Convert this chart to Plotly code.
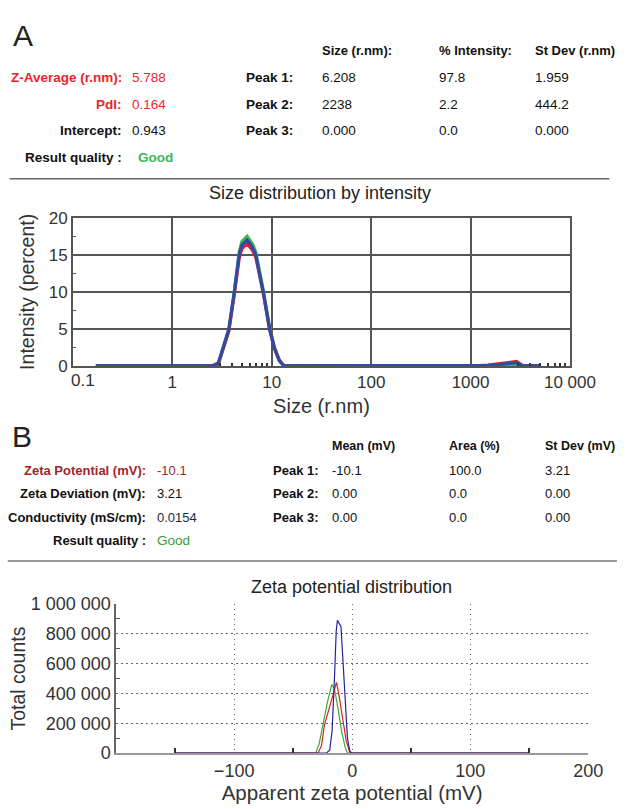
import plotly.graph_objects as go

W, H = 643, 809

# ---------------- Data: (A) size distribution by intensity ----------------
size_rnm = [0.17, 2.5, 2.9, 3.37, 3.7, 4.2, 4.7, 5.0, 5.65, 6.4, 6.9, 8.2, 9.5, 10.6, 11.9, 13.3,
            1000, 1500, 2100, 2900, 3400, 5100]
intensity_green = [0, 0, 0.2, 2.9, 4.8, 10.0, 15.3, 16.8, 17.5, 16.5, 15.4, 10.3, 5.3, 2.6, 0.8, 0,
                   0, 0.04, 0.12, 0.25, 0, 0]
intensity_red = [0, 0, 0.3, 3.0, 4.7, 9.6, 14.5, 15.8, 16.5, 15.6, 14.7, 9.9, 5.0, 2.5, 0.8, 0,
                 0, 0.12, 0.35, 0.6, 0, 0]
intensity_blue = [0, 0, 0.4, 3.3, 5.0, 10.0, 15.0, 16.3, 17.0, 16.0, 15.0, 10.0, 5.0, 2.4, 0.7, 0,
                  0, 0.08, 0.25, 0.45, 0, 0]

size_tickvals = [0.1, 1, 10, 100, 1000, 10000]
size_ticktext = ["", "1", "10", "100", "1000", "10 000"]
size_first_label = "0.1"
size_minor_ticks = [3, 4, 5, 6, 7, 8, 9, 3000, 4000, 5000, 6000, 7000, 8000, 9000]
intensity_tickvals = [0, 5, 10, 15, 20]
intensity_minor_ticks = [2.5, 7.5, 12.5, 17.5]

# ---------------- Data: (B) zeta potential distribution ----------------
zeta_green = [-150, -31, -28, -25, -21, -17.3, -15, -12, -9, -6, -4, 150]
counts_green = [0, 0, 60000, 180000, 340000, 460000, 430000, 300000, 150000, 40000, 0, 0]
zeta_red = [-150, -29, -26, -23.5, -18, -15, -13.3, -11, -8, -5, -2, -1.5, 150]
counts_red = [0, 0, 50000, 190000, 340000, 420000, 475000, 380000, 220000, 80000, 5000, 0, 0]
zeta_blue = [-150, -22, -19, -17, -15, -13.5, -12.5, -9.5, -8, -6, -4, -2, -0.5, 150]
counts_blue = [0, 0, 20000, 150000, 500000, 820000, 890000, 850000, 650000, 350000, 100000, 15000, 0, 0]

zeta_tickvals = [-100, 0, 100, 200]
zeta_ticktext = ["\u2212100", "0", "100", "200"]
zeta_minor_ticks = [-150, -50, 50, 150]
counts_tickvals = [0, 200000, 400000, 600000, 800000, 1000000]
counts_ticktext = ["0", "200 000", "400 000", "600 000", "800 000", "1 000 000"]
counts_minor_ticks = [100000, 300000, 500000, 700000, 900000]

# ---------------- Table texts ----------------
a_left_labels = ["Z-Average (r.nm):", "PdI:", "Intercept:", "Result quality :"]
a_left_values = ["5.788", "0.164", "0.943", "Good"]
a_headers = ["Size (r.nm):", "% Intensity:", "St Dev (r.nm)"]
a_peak_labels = ["Peak 1:", "Peak 2:", "Peak 3:"]
a_peak_size = ["6.208", "2238", "0.000"]
a_peak_intensity = ["97.8", "2.2", "0.0"]
a_peak_stdev = ["1.959", "444.2", "0.000"]

b_left_labels = ["Zeta Potential (mV):", "Zeta Deviation (mV):", "Conductivity (mS/cm):", "Result quality :"]
b_left_values = ["-10.1", "3.21", "0.0154", "Good"]
b_headers = ["Mean (mV)", "Area (%)", "St Dev (mV)"]
b_peak_labels = ["Peak 1:", "Peak 2:", "Peak 3:"]
b_peak_mean = ["-10.1", "0.00", "0.00"]
b_peak_area = ["100.0", "0.0", "0.0"]
b_peak_stdev = ["3.21", "0.00", "0.00"]

FONT = "Liberation Sans, Arial, sans-serif"


def px(x):
    return x / W


def py(y):
    return 1 - y / H


fig = go.Figure()

# Chart A traces
for vals, col in [(intensity_green, "#45b649"), (intensity_red, "#ec1c24"), (intensity_blue, "#2e4ca4")]:
    fig.add_trace(go.Scatter(x=size_rnm, y=vals, mode="lines", line=dict(color=col, width=3.2),
                             xaxis="x", yaxis="y", showlegend=False, hoverinfo="skip"))

# Chart B traces
for xs, ys, col in [(zeta_green, counts_green, "#3aa83a"), (zeta_red, counts_red, "#e02020"),
                    (zeta_blue, counts_blue, "#23239a")]:
    fig.add_trace(go.Scatter(x=xs, y=ys, mode="lines", line=dict(color=col, width=1.2),
                             xaxis="x2", yaxis="y2", showlegend=False, hoverinfo="skip"))

ann = []


def text(x, y, s, size=13.5, color="#111", bold=False, anchor="left", family=FONT):
    if bold:
        s = "<b>" + s + "</b>"
    ann.append(dict(x=px(x), y=py(y), xref="paper", yref="paper", text=s, showarrow=False,
                    xanchor=anchor, yanchor="middle", borderpad=0,
                    font=dict(size=size, color=color, family=family)))


# ---- Table A ----
text(12, 26, "A", size=30, color="#222")
a_rows = [69, 97, 124, 151]
a_cols = [335, 456, 556]
for c, h in zip(a_cols, a_headers):
    text(c, 42, h, size=13, bold=True)
a_label_colors = ["#e8262d", "#e8262d", "#111", "#111"]
a_value_colors = ["#e8262d", "#e8262d", "#111", "#3cb85c"]
for i in range(4):
    text(128, a_rows[i], a_left_labels[i], size=13.5, bold=True, color=a_label_colors[i], anchor="right")
    text(137 if i < 3 else 143, a_rows[i], a_left_values[i], size=13.5, color=a_value_colors[i],
         bold=(i == 3))
for i in range(3):
    text(306, a_rows[i], a_peak_labels[i], size=13.5, bold=True, anchor="right")
    text(a_cols[0], a_rows[i], a_peak_size[i])
    text(a_cols[1], a_rows[i], a_peak_intensity[i])
    text(a_cols[2], a_rows[i], a_peak_stdev[i])

# ---- Table B ----
text(11, 437, "B", size=30, color="#222")
b_rows = [472, 496, 520, 544]
b_cols = [345, 467, 567]
for c, h in zip(b_cols, b_headers):
    text(c, 447, h, size=12.5, bold=True)
b_label_colors = ["#a3252b", "#111", "#111", "#111"]
b_value_colors = ["#a3252b", "#111", "#1a2a44", "#3a9a3a"]
for i in range(4):
    text(153, b_rows[i], b_left_labels[i], size=13, bold=True, color=b_label_colors[i], anchor="right")
    text(163, b_rows[i], b_left_values[i], size=13 if i < 3 else 13.5, color=b_value_colors[i])
for i in range(3):
    text(333, b_rows[i], b_peak_labels[i], size=13, bold=True, anchor="right")
    text(b_cols[0], b_rows[i], b_peak_mean[i], size=13)
    text(b_cols[1], b_rows[i], b_peak_area[i], size=13)
    text(b_cols[2], b_rows[i], b_peak_stdev[i], size=13)

# ---- Chart titles and first size tick label ----
text(333, 188, "Size distribution by intensity", size=18, color="#222", anchor="center")
text(366, 592, "Zeta potential distribution", size=18, color="#222", anchor="center")
text(86, 380, size_first_label, size=17, color="#333", anchor="center")

shapes = [
    dict(type="line", xref="paper", yref="paper", x0=px(10), x1=px(635), y0=py(173), y1=py(173),
         line=dict(color="#666", width=1.5)),
    dict(type="line", xref="paper", yref="paper", x0=px(8), x1=px(643), y0=py(565), y1=py(565),
         line=dict(color="#9a9a9a", width=2)),
]

fig.update_layout(
    width=W, height=H,
    margin=dict(l=0, r=0, t=0, b=0),
    paper_bgcolor="white", plot_bgcolor="white",
    font=dict(family=FONT, color="#333"),
    annotations=ann, shapes=shapes,
    xaxis=dict(
        domain=[px(76), px(594)], anchor="y", type="log", range=[-1, 4],
        tickvals=size_tickvals, ticktext=size_ticktext,
        showgrid=True, gridcolor="#555", gridwidth=1.5,
        showline=True, linecolor="#555", linewidth=1.5, mirror=True,
        ticks="", tickfont=dict(size=17, color="#333"),
        minor=dict(tickvals=size_minor_ticks, ticks="inside", ticklen=3, tickcolor="#333",
                   tickwidth=1.5, showgrid=False),
        title=dict(text="Size (r.nm)", font=dict(size=20, color="#333"), standoff=8),
        zeroline=False,
    ),
    yaxis=dict(
        domain=[py(365), py(213)], anchor="x", range=[0, 20],
        tickvals=intensity_tickvals,
        showgrid=True, gridcolor="#555", gridwidth=1.5,
        showline=True, linecolor="#555", linewidth=1.5, mirror=True,
        ticks="", tickfont=dict(size=17, color="#333"),
        minor=dict(tickvals=intensity_minor_ticks, ticks="inside", ticklen=3, tickcolor="#555",
                   showgrid=False),
        title=dict(text="Intensity (percent)", font=dict(size=19.5, color="#333"), standoff=9),
        zeroline=False,
    ),
    xaxis2=dict(
        domain=[px(121), px(613)], anchor="y2", range=[-200, 200],
        tickvals=zeta_tickvals, ticktext=zeta_ticktext,
        showgrid=True, gridcolor="#666", griddash="1.5px,3.5px", gridwidth=1.2,
        showline=True, linecolor="#9a9a9a", linewidth=2,
        ticks="", tickfont=dict(size=18, color="#333"),
        minor=dict(tickvals=zeta_minor_ticks, ticks="inside", ticklen=5, tickcolor="#333",
                   tickwidth=1.5, showgrid=False),
        title=dict(text="Apparent zeta potential (mV)", font=dict(size=20.5, color="#333"), standoff=3),
        zeroline=False,
    ),
    yaxis2=dict(
        domain=[py(762), py(609)], anchor="x2", range=[0, 1000000],
        tickvals=counts_tickvals, ticktext=counts_ticktext,
        showgrid=True, gridcolor="#666", griddash="1.5px,3.5px", gridwidth=1.2,
        showline=True, linecolor="#666", linewidth=1.5,
        ticks="", tickfont=dict(size=18, color="#333"),
        minor=dict(tickvals=counts_minor_ticks, ticks="inside", ticklen=4,
                   tickcolor="#555", showgrid=False),
        title=dict(text="Total counts", font=dict(size=19.5, color="#333"), standoff=0),
        zeroline=False,
    ),
)

fig.write_html("out.html", config={"displayModeBar": False},
               post_script="document.body.style.margin='0';")
